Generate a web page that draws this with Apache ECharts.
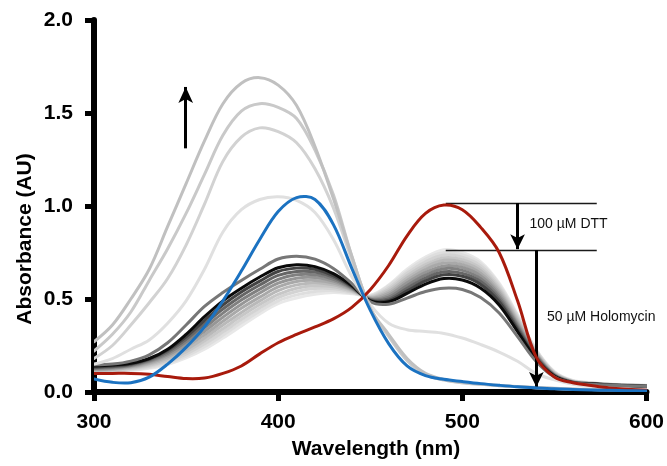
<!DOCTYPE html>
<html>
<head>
<meta charset="utf-8">
<script src="https://cdn.jsdelivr.net/npm/echarts@6/dist/echarts.min.js"></script>
<style>
  html, body { margin: 0; padding: 0; background: #ffffff; }
  #chart { width: 667px; height: 466px; }
</style>
</head>
<body>
<div id="chart"></div>
<script>
// Axis ticks
const xTicks = [300, 400, 500, 600];
const yTicks = [0, 0.5, 1.0, 1.5, 2.0];

// Every spectrum is sampled on the same 10 nm grid
const wavelength = [300, 310, 320, 330, 340, 350, 360, 370, 380, 390, 400, 410, 420, 430, 440, 450,
                    460, 470, 480, 490, 500, 510, 520, 530, 540, 550, 560, 570, 580, 590, 600];

// Oxidised holomycin (red)
const oxidised = [0.10, 0.10, 0.10, 0.095, 0.083, 0.072, 0.075, 0.10, 0.14, 0.205, 0.265, 0.31, 0.35, 0.393, 0.455, 0.55,
                  0.68, 0.84, 0.96, 1.005, 0.98, 0.885, 0.75, 0.49, 0.19, 0.08, 0.05, 0.035, 0.022, 0.015, 0.01];

// Reduced holomycin (blue)
const reduced = [0.07, 0.052, 0.05, 0.08, 0.15, 0.24, 0.35, 0.49, 0.65, 0.82, 0.97, 1.045, 1.035, 0.90, 0.665, 0.44,
                 0.26, 0.14, 0.088, 0.068, 0.056, 0.045, 0.036, 0.028, 0.022, 0.017, 0.014, 0.011, 0.009, 0.007, 0.006];

// Late titration spectra (light grey, growing band near 390 nm)
const lateA = [0.27, 0.36, 0.50, 0.66, 0.89, 1.12, 1.35, 1.55, 1.66, 1.69, 1.65, 1.54, 1.32, 1.04, 0.73, 0.45,
               0.31, 0.18, 0.10, 0.068, 0.052, 0.043, 0.035, 0.029, 0.024, 0.02, 0.016, 0.014, 0.012, 0.011, 0.01];
const lateB = [0.22, 0.31, 0.43, 0.60, 0.77, 0.96, 1.17, 1.38, 1.51, 1.55, 1.53, 1.47, 1.30, 1.06, 0.73, 0.45,
               0.30, 0.17, 0.095, 0.065, 0.05, 0.041, 0.034, 0.028, 0.023, 0.019, 0.015, 0.013, 0.012, 0.011, 0.01];
const lateC = [0.18, 0.25, 0.36, 0.48, 0.61, 0.79, 1.01, 1.24, 1.37, 1.42, 1.40, 1.34, 1.20, 0.99, 0.71, 0.45,
               0.30, 0.17, 0.094, 0.064, 0.05, 0.041, 0.034, 0.028, 0.023, 0.019, 0.015, 0.013, 0.012, 0.011, 0.01];
const lateD = [0.15, 0.18, 0.23, 0.28, 0.37, 0.49, 0.66, 0.86, 0.98, 1.035, 1.05, 1.03, 0.965, 0.82, 0.62, 0.47,
               0.37, 0.335, 0.325, 0.315, 0.29, 0.255, 0.215, 0.165, 0.10, 0.065, 0.042, 0.03, 0.022, 0.016, 0.012];

// DTT / holomycin titration band, lightest to darkest
const band01 = [0.105, 0.108, 0.115, 0.127, 0.148, 0.183, 0.23, 0.29, 0.355, 0.42, 0.475, 0.505, 0.525, 0.535, 0.528, 0.52,
                0.575, 0.66, 0.725, 0.765, 0.75, 0.70, 0.585, 0.415, 0.23, 0.11, 0.062, 0.05, 0.043, 0.039, 0.036];
const band02 = [0.108, 0.111, 0.119, 0.132, 0.155, 0.193, 0.243, 0.305, 0.372, 0.435, 0.49, 0.522, 0.54, 0.545, 0.532, 0.517,
                0.57, 0.65, 0.715, 0.75, 0.738, 0.69, 0.578, 0.408, 0.226, 0.107, 0.06, 0.049, 0.042, 0.038, 0.035];
const band03 = [0.111, 0.114, 0.123, 0.138, 0.163, 0.204, 0.258, 0.322, 0.39, 0.452, 0.507, 0.54, 0.556, 0.555, 0.537, 0.514,
                0.56, 0.638, 0.70, 0.736, 0.725, 0.678, 0.568, 0.40, 0.222, 0.104, 0.059, 0.048, 0.041, 0.037, 0.034];
const band04 = [0.114, 0.117, 0.127, 0.144, 0.172, 0.216, 0.274, 0.34, 0.408, 0.47, 0.525, 0.558, 0.571, 0.566, 0.542, 0.511,
                0.55, 0.625, 0.685, 0.722, 0.712, 0.665, 0.557, 0.392, 0.217, 0.101, 0.057, 0.047, 0.041, 0.037, 0.034];
const band05 = [0.117, 0.121, 0.131, 0.15, 0.181, 0.228, 0.29, 0.36, 0.428, 0.49, 0.545, 0.576, 0.586, 0.576, 0.547, 0.508,
                0.54, 0.613, 0.672, 0.708, 0.698, 0.652, 0.546, 0.383, 0.212, 0.098, 0.056, 0.046, 0.04, 0.036, 0.033];
const band06 = [0.12, 0.124, 0.135, 0.156, 0.19, 0.242, 0.308, 0.38, 0.45, 0.51, 0.565, 0.594, 0.60, 0.586, 0.552, 0.505,
                0.53, 0.60, 0.658, 0.693, 0.684, 0.638, 0.535, 0.374, 0.207, 0.095, 0.055, 0.046, 0.04, 0.036, 0.033];
const band07 = [0.123, 0.128, 0.139, 0.162, 0.199, 0.256, 0.327, 0.402, 0.472, 0.532, 0.585, 0.612, 0.615, 0.596, 0.556, 0.502,
                0.52, 0.587, 0.643, 0.678, 0.669, 0.624, 0.523, 0.365, 0.202, 0.093, 0.054, 0.045, 0.039, 0.035, 0.032];
const band08 = [0.127, 0.132, 0.143, 0.168, 0.208, 0.27, 0.346, 0.424, 0.494, 0.553, 0.605, 0.63, 0.63, 0.606, 0.56, 0.499,
                0.51, 0.573, 0.628, 0.663, 0.654, 0.609, 0.511, 0.356, 0.197, 0.091, 0.053, 0.045, 0.039, 0.035, 0.032];
const band09 = [0.131, 0.136, 0.147, 0.173, 0.217, 0.284, 0.365, 0.446, 0.516, 0.575, 0.627, 0.648, 0.645, 0.616, 0.564, 0.496,
                0.50, 0.558, 0.612, 0.646, 0.638, 0.594, 0.498, 0.346, 0.191, 0.089, 0.052, 0.044, 0.038, 0.034, 0.031];
const band10 = [0.135, 0.14, 0.151, 0.177, 0.224, 0.296, 0.384, 0.468, 0.538, 0.596, 0.648, 0.666, 0.66, 0.626, 0.568, 0.493,
                0.492, 0.544, 0.597, 0.63, 0.622, 0.578, 0.485, 0.336, 0.185, 0.087, 0.051, 0.044, 0.038, 0.034, 0.031];
const band11 = [0.14, 0.145, 0.155, 0.18, 0.23, 0.31, 0.405, 0.49, 0.558, 0.618, 0.668, 0.684, 0.674, 0.636, 0.572, 0.49,
                0.485, 0.53, 0.58, 0.61, 0.602, 0.558, 0.468, 0.325, 0.178, 0.085, 0.05, 0.043, 0.037, 0.033, 0.03];
const band12 = [0.146, 0.15, 0.166, 0.20, 0.265, 0.36, 0.46, 0.535, 0.60, 0.66, 0.715, 0.73, 0.714, 0.664, 0.583, 0.485,
                0.472, 0.505, 0.54, 0.558, 0.551, 0.508, 0.425, 0.298, 0.165, 0.08, 0.048, 0.042, 0.037, 0.033, 0.03];

// Annotation anchors (wavelength, absorbance)
const dttLevel = 1.016;
const holoLevel = 0.763;
const bracketStart = 491;
const bracketEnd = 573;
const dttArrowX = 530;
const holoArrowX = 540.2;
const holoArrowTip = 0.027;
const riseArrowX = 349.8;
const riseArrowFrom = 1.31;
const riseArrowTo = 1.64;

const bandColors = ['#e8e8e8', '#dedede', '#d3d3d3', '#c7c7c7', '#b9b9b9', '#a9a9a9',
                    '#969696', '#808080', '#666666', '#444444', '#0a0a0a', '#777777'];
const bands = [band01, band02, band03, band04, band05, band06, band07, band08, band09, band10, band11, band12];

const FONT = 'Liberation Sans, Arial, Helvetica, sans-serif';

function pairs(ys) { return wavelength.map((x, i) => [x, ys[i]]); }

// One smooth spectrum: a custom series that maps every sample through the
// cartesian axes and strokes a single smoothed polyline through them.
function spectrum(name, values, color, width, z) {
  const data = pairs(values);
  return {
    name: name, type: 'custom', coordinateSystem: 'cartesian2d',
    data: data, z: z, silent: true, clip: true,
    encode: { x: 0, y: 1 },
    renderItem: function (params, api) {
      if (params.dataIndexInside !== 0) return null;
      const pts = data.map(d => api.coord(d));
      return {
        type: 'polyline', silent: true,
        shape: { points: pts, smooth: 0.35 },
        style: { stroke: color, lineWidth: width, fill: null, lineJoin: 'round', lineCap: 'round' }
      };
    }
  };
}

const series = [];
bands.forEach((b, i) => {
  series.push(spectrum('band' + (i + 1), b, bandColors[i], 3, 2 + i * 0.01));
});
series.push(spectrum('lateD', lateD, '#e0e0e0', 3, 3));
series.push(spectrum('lateC', lateC, '#d2d2d2', 3, 3.1));
series.push(spectrum('lateB', lateB, '#c9c9c9', 3, 3.2));
series.push(spectrum('lateA', lateA, '#c0c0c0', 3, 3.3));
series.push(spectrum('oxidised', oxidised, '#a81a0c', 3, 5));
series.push(spectrum('reduced', reduced, '#1b72c1', 3, 6));

// Annotation arrows, brackets and their labels
const thin = { color: '#1a1a1a', width: 1.3, type: 'solid' };
const thick = { color: '#000000', width: 3, type: 'solid' };
series.push({
  name: 'annotations', type: 'line', data: [], z: 10, silent: true,
  markLine: {
    silent: true, animation: false,
    label: { show: false },
    symbol: ['none', 'none'],
    data: [
      [{ coord: [bracketStart, dttLevel], lineStyle: thin, symbol: 'none' }, { coord: [bracketEnd, dttLevel], symbol: 'none' }],
      [{ coord: [bracketStart, holoLevel], lineStyle: thin, symbol: 'none' }, { coord: [bracketEnd, holoLevel], symbol: 'none' }],
      [{ coord: [dttArrowX, dttLevel], lineStyle: thick, symbol: 'none' }, { coord: [dttArrowX, holoLevel + 0.005], symbol: 'arrow', symbolSize: [11, 15] }],
      [{ coord: [holoArrowX, holoLevel], lineStyle: thick, symbol: 'none' }, { coord: [holoArrowX, holoArrowTip], symbol: 'arrow', symbolSize: [11, 15] }],
      [{ coord: [riseArrowX, riseArrowFrom], lineStyle: thick, symbol: 'none' }, { coord: [riseArrowX, riseArrowTo], symbol: 'arrow', symbolSize: [11, 16] }]
    ]
  },
  markPoint: {
    silent: true, animation: false,
    symbol: 'circle', symbolSize: 0,
    label: { show: true, position: 'right', distance: 0, color: '#111', fontFamily: FONT, fontSize: 14 },
    data: [
      { coord: [536.5, 0.905], value: 0, label: { formatter: '100 µM DTT' } },
      { coord: [546, 0.40], value: 0, label: { formatter: '50 µM Holomycin' } }
    ]
  }
});

const chart = echarts.init(document.getElementById('chart'), null, { renderer: 'canvas' });
chart.setOption({
  animation: false,
  backgroundColor: '#ffffff',
  grid: { left: 94, right: 14, top: 20, bottom: 74, containLabel: false },
  xAxis: {
    type: 'value', min: xTicks[0], max: xTicks[xTicks.length - 1], interval: 100,
    axisLine: { show: true, onZero: false, lineStyle: { color: '#000', width: 6 } },
    axisTick: { show: true, inside: false, length: 9, lineStyle: { color: '#000', width: 5 } },
    splitLine: { show: false },
    axisLabel: { color: '#000', fontFamily: FONT, fontWeight: 'bold', fontSize: 21, margin: 20 }
  },
  yAxis: {
    type: 'value', min: yTicks[0], max: yTicks[yTicks.length - 1], interval: 0.5,
    axisLine: { show: true, onZero: false, lineStyle: { color: '#000', width: 6 } },
    axisTick: { show: true, inside: false, length: 9, lineStyle: { color: '#000', width: 5 } },
    splitLine: { show: false },
    axisLabel: { color: '#000', fontFamily: FONT, fontWeight: 'bold', fontSize: 21, margin: 21,
                 formatter: v => v.toFixed(1) }
  },
  graphic: [
    { type: 'text', x: 376, y: 449, style: { text: 'Wavelength (nm)', font: 'bold 21px ' + FONT, fill: '#000', textAlign: 'center', textVerticalAlign: 'middle' } },
    { type: 'text', x: 25, y: 239, rotation: Math.PI / 2, style: { text: 'Absorbance (AU)', font: 'bold 21px ' + FONT, fill: '#000', textAlign: 'center', textVerticalAlign: 'middle' } }
  ],
  series: series
});
</script>
</body>
</html>
